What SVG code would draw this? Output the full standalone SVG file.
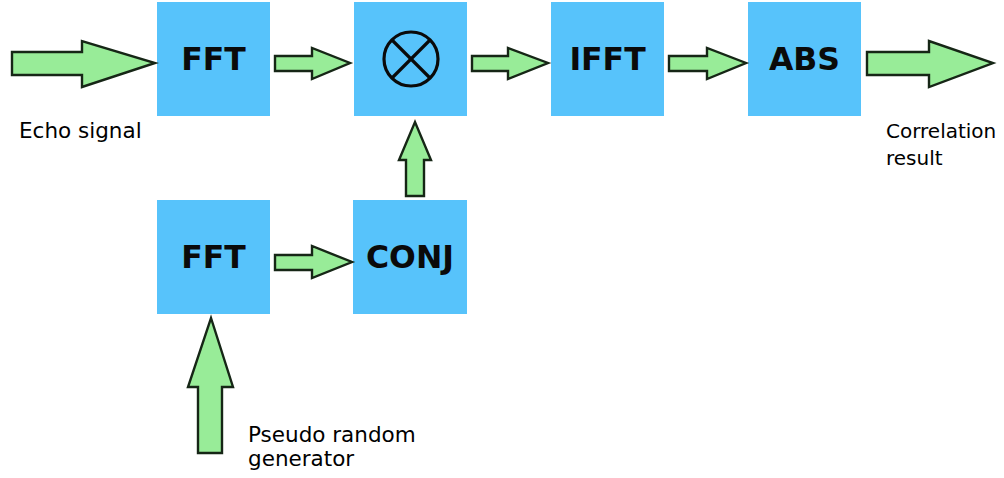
<svg xmlns="http://www.w3.org/2000/svg" width="1004" height="478" viewBox="0 0 1004 478">
<style>
.box{fill:#57c3fb}
.lbl{font-family:"DejaVu Sans",Verdana,sans-serif;font-weight:bold;font-size:31.5px;fill:#0a0a0a;text-anchor:middle}
.txt{font-family:"DejaVu Sans","Liberation Sans",sans-serif;font-size:21.5px;fill:#000}
.txt.r{font-size:20px}
.arr{fill:#98ec98;stroke:#162616;stroke-width:2.4;stroke-linejoin:miter}
</style>
<rect width="1004" height="478" fill="#fff"/>
<g id="fft1"><rect class="box" x="157" y="2" width="113" height="114"/><text class="lbl" x="213.5" y="70">FFT</text></g>
<g id="mult"><rect class="box" x="354" y="2" width="113" height="114"/>
<g fill="none" stroke="#0a0a0a" stroke-width="3.2"><circle cx="411" cy="59" r="27"/><line x1="392" y1="40" x2="430" y2="78"/><line x1="430" y1="40" x2="392" y2="78"/></g></g>
<g id="ifft"><rect class="box" x="551" y="2" width="113" height="114"/><text class="lbl" x="607.5" y="70">IFFT</text></g>
<g id="abs"><rect class="box" x="748" y="2" width="113" height="114"/><text class="lbl" x="804.5" y="70">ABS</text></g>
<g id="fft2"><rect class="box" x="157" y="200" width="113" height="114"/><text class="lbl" x="213.5" y="268">FFT</text></g>
<g id="conj"><rect class="box" x="353" y="200" width="114" height="114"/><text class="lbl" x="410" y="268">CONJ</text></g>
<g id="connectors">
<polygon class="arr" points="12,52 82,52 82,41 155,63 82,87 82,75 12,75"/>
<polygon class="arr" points="275,56 312,56 312,48 350,63 312,79 312,71 275,71"/>
<polygon class="arr" points="472,56 508,56 508,48 548,63 508,79 508,71 472,71"/>
<polygon class="arr" points="669,56 707,56 707,48 746,63 707,79 707,71 669,71"/>
<polygon class="arr" points="867,52 929,52 929,41 993,63 929,87 929,75 867,75"/>
<polygon class="arr" points="275,255 312,255 312,246 352,262 312,278 312,270 275,270"/>
<polygon class="arr" points="406,196 406,160 399,160 415,122 431,160 424,160 424,196"/>
<polygon class="arr" points="198,453 198,387 188,387 211,318 233,387 222,387 222,453"/>
</g>
<g id="labels">
<text class="txt" x="19" y="138">Echo signal</text>
<text class="txt r" x="886" y="138">Correlation</text>
<text class="txt r" x="886" y="165">result</text>
<text class="txt" x="248" y="442">Pseudo random</text>
<text class="txt" x="248" y="466">generator</text>
</g>
</svg>
